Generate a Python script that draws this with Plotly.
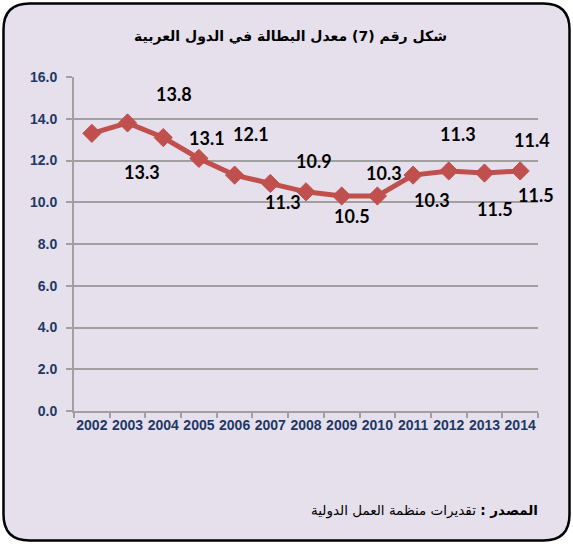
import plotly.graph_objects as go

# ---- data ----
years = [str(y) for y in range(2002, 2015)]
rates = [13.3, 13.8, 13.1, 12.1, 11.3, 10.9, 10.5, 10.3, 10.3, 11.3, 11.5, 11.4, 11.5]
label_texts = ["13.3", "13.8", "13.1", "12.1", "11.3", "10.9", "10.5",
               "10.3", "10.3", "11.3", "11.5", "11.4", "11.5"]
y_ticks = [0, 2, 4, 6, 8, 10, 12, 14, 16]
title_text = "شكل رقم (7) معدل البطالة في الدول العربية"
source_label = "المصدر :"
source_text = "تقديرات منظمة العمل الدولية"

# ---- style / layout (pixel offsets of the data labels, as in the original) ----
label_dx = [50, 46, 44, 52, 48, 44, 46, 42, 55, 45, 46, 48, 16]
label_dy = [-39, 29, 0, 24, -27, 22, -24, 23, -4, 41, -38, 33, -24]

W, H = 573, 544
L, R, T, B = 74, 538, 77, 411
PW, PH = R - L, B - T

def px(x):
    return (x - L) / PW

def py(y):
    return (B - y) / PH

RED = "#C0504D"
NAVY = "#1F3864"
GRID = "#A0A0A0"
BG = "#E5E0EC"

fig = go.Figure()
fig.add_trace(go.Scatter(
    x=years, y=rates, mode="lines+markers",
    line=dict(color=RED, width=5),
    marker=dict(symbol="diamond", size=14, color=RED, line=dict(color=RED, width=1)),
    hoverinfo="x+y", showlegend=False,
))

annotations = []
for i, (v, t, dx, dy) in enumerate(zip(rates, label_texts, label_dx, label_dy)):
    annotations.append(dict(
        x=i, y=v, xref="x", yref="y", text=t, showarrow=False,
        xshift=dx, yshift=dy, xanchor="center", yanchor="middle",
        font=dict(family="Lato, Open Sans, sans-serif", size=18, color="black", weight="bold"),
    ))

annotations.append(dict(
    x=px(290), y=py(37), xref="paper", yref="paper", text="<b>" + title_text + "</b>",
    showarrow=False, xanchor="center", yanchor="middle",
    font=dict(family="DejaVu Sans, Liberation Sans, sans-serif", size=14, color="black"),
))
annotations.append(dict(
    x=px(540), y=py(510), xref="paper", yref="paper",
    text="<b>" + source_label + "</b> " + source_text,
    showarrow=False, xanchor="right", yanchor="middle",
    font=dict(family="DejaVu Sans, Liberation Sans, sans-serif", size=13.5, color="black"),
))

# rounded border
x0, y0, x1, y1, r = 3.5, 3.5, 569.5, 540.5, 26
path = (
    f"M {px(x0 + r)},{py(y0)} L {px(x1 - r)},{py(y0)} "
    f"Q {px(x1)},{py(y0)} {px(x1)},{py(y0 + r)} "
    f"L {px(x1)},{py(y1 - r)} Q {px(x1)},{py(y1)} {px(x1 - r)},{py(y1)} "
    f"L {px(x0 + r)},{py(y1)} Q {px(x0)},{py(y1)} {px(x0)},{py(y1 - r)} "
    f"L {px(x0)},{py(y0 + r)} Q {px(x0)},{py(y0)} {px(x0 + r)},{py(y0)} Z"
)
shapes = [dict(type="path", path=path, xref="paper", yref="paper",
               fillcolor=BG, line=dict(color="black", width=2.5), layer="below")]

tickfont = dict(family="Liberation Sans, Arial, sans-serif", size=14, color=NAVY, weight="bold")

fig.update_layout(
    width=W, height=H,
    margin=dict(l=L, r=W - R, t=T, b=H - B, pad=0),
    paper_bgcolor="white", plot_bgcolor="rgba(0,0,0,0)",
    annotations=annotations, shapes=shapes,
    xaxis=dict(
        type="category", range=[-0.5, 12.5], showgrid=False,
        showline=True, linecolor=GRID, linewidth=2,
        ticks="outside", tickson="boundaries", ticklen=5, tickcolor=GRID, tickwidth=2,
        tickfont=tickfont, tickangle=0, fixedrange=True,
    ),
    yaxis=dict(
        range=[0, 16], tickvals=y_ticks, tickformat=".1f",
        showgrid=True, gridcolor=GRID, gridwidth=2, zeroline=False,
        showline=True, linecolor=GRID, linewidth=2,
        ticks="outside", ticklen=6, tickcolor=GRID, tickwidth=2,
        tickfont=tickfont, ticklabelstandoff=6, fixedrange=True,
    ),
)

fig.write_html("out.html", config={"displayModeBar": False},
               post_script="document.body.style.margin='0';document.body.style.overflow='hidden';")
